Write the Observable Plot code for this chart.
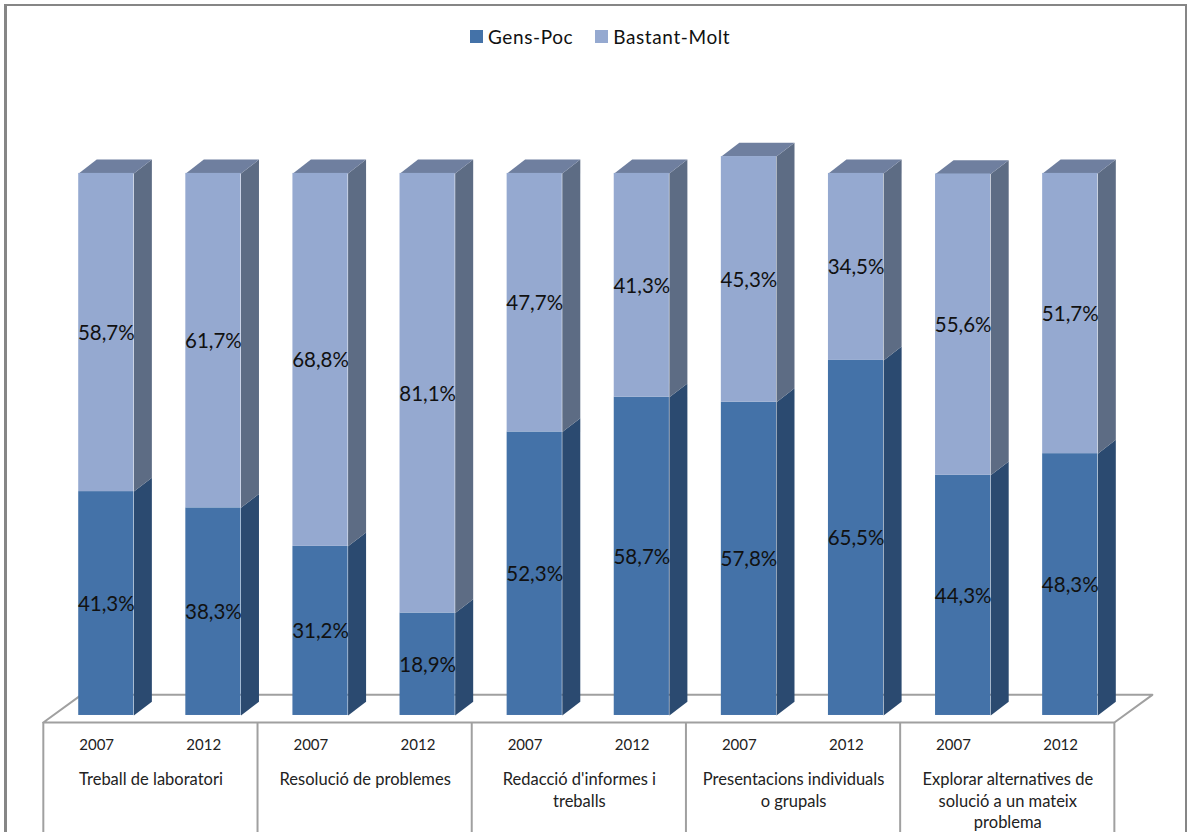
<!DOCTYPE html>
<html><head><meta charset="utf-8">
<script src="https://cdn.jsdelivr.net/npm/d3@7"></script>
<script src="https://cdn.jsdelivr.net/npm/@observablehq/plot@0.6"></script>
<style>
html,body{margin:0;padding:0;background:#fff;overflow:hidden}
#frame{position:relative;width:1188px;height:832px;overflow:hidden;background:#fff}
#frame:before{content:"";position:absolute;left:4px;top:4px;width:1183px;height:840px;border:2px solid #868686;border-left-width:3px;box-sizing:border-box}
#legend{position:absolute;top:23px;left:470px;display:flex;align-items:center;font:19px Lato,sans-serif;color:#111;height:26px}
#legend i{display:inline-block;width:13px;height:13px;margin-right:5px}
#legend span{margin-right:22px;letter-spacing:.6px}
#chart{position:absolute;left:0;top:0}
</style></head><body>
<div id="frame">
<div id="chart"></div>
<div id="legend"><i style="background:#4472a8"></i><span>Gens-Poc</span><i style="background:#95a9d0"></i><span>Bastant-Molt</span></div>
</div>
<script>
const categories = ["Treball de laboratori","Resolució de problemes","Redacció d'informes i\ntreballs","Presentacions individuals\no grupals","Explorar alternatives de\nsolució a un mateix\nproblema"];
const years = ["2007","2012"];
const gensPoc = [41.3,38.3,31.2,18.9,52.3,58.7,57.8,65.5,44.3,48.3];
const bastantMolt = [58.7,61.7,68.8,81.1,47.7,41.3,45.3,34.5,55.6,51.7];

const halfW = 0.2575, depthX = 0.168, depthY = 2.55;
const rows = gensPoc.map((g,i)=>({i,g,b:bastantMolt[i],t:g+bastantMolt[i],year:years[i%2]}));
const poly = (key,fill,pts)=>pts.map(([x,y])=>({key,fill,x,y}));
const faces = rows.flatMap(r=>{
  const l=r.i-halfW, h=r.i+halfW, d=depthX, e=depthY;
  return [
    ...poly(`ds${r.i}`,"#2b4a70",[[h,0],[h+d,e],[h+d,r.g+e],[h,r.g]]),
    ...poly(`ls${r.i}`,"#5d6c84",[[h,r.g],[h+d,r.g+e],[h+d,r.t+e],[h,r.t]]),
    ...poly(`lt${r.i}`,"#6f7f9f",[[l,r.t],[h,r.t],[h+d,r.t+e],[l+d,r.t+e]])
  ];
});
const floorFront=-1.3, floorBack=3.8, leftEdge=-0.588, rightEdge=9.412, backShift=0.355;
const floor=[[leftEdge,floorFront],[leftEdge+backShift,floorBack],[rightEdge+backShift,floorBack],[rightEdge,floorFront],[leftEdge,floorFront]].map(([x,y])=>({x,y}));
const groupEdges=d3.range(6).map(k=>leftEdge+2*k);
const groups=categories.map((c,k)=>({c,x:leftEdge+2*k+1.005}));

const chart=Plot.plot({
  width:1188,height:832,margin:0,
  x:{type:"linear",domain:[-0.9878,10.1042],range:[0,1188],axis:null},
  y:{type:"linear",domain:[-21.59,131.9],range:[832,0],axis:null},
  marks:[
    Plot.line(floor,{x:"x",y:"y",stroke:"#a0a0a0",strokeWidth:2}),
    Plot.ruleX(groupEdges,{y1:floorFront,y2:-21.59,stroke:"#a0a0a0",strokeWidth:2}),
    Plot.line(faces,{x:"x",y:"y",z:"key",fill:"fill",stroke:null,curve:"linear-closed"}),
    Plot.rect(rows,{x1:d=>d.i-halfW,x2:d=>d.i+halfW,y1:0,y2:"g",fill:"#4472a8",inset:0}),
    Plot.rect(rows,{x1:d=>d.i-halfW,x2:d=>d.i+halfW,y1:"g",y2:"t",fill:"#95a9d0",inset:0}),
    Plot.text(rows,{x:"i",y:d=>d.g/2-0.15,text:d=>d.g.toFixed(1).replace(".",",")+"%",fontSize:20.5,fontFamily:"Lato",fill:"#111"}),
    Plot.text(rows,{x:"i",y:d=>d.g+d.b/2-0.15,text:d=>d.b.toFixed(1).replace(".",",")+"%",fontSize:20.5,fontFamily:"Lato",fill:"#111"}),
    Plot.text(rows,{x:d=>d.i-0.09,y:-5.4,text:"year",fontSize:15,fontFamily:"Lato",fill:"#222"}),
    Plot.text(groups,{x:"x",y:-10.15,text:"c",fontSize:16.5,fontFamily:"Lato",fill:"#222",lineAnchor:"top",lineHeight:1.28})
  ]
});
document.getElementById("chart").appendChild(chart);
</script></body></html>
